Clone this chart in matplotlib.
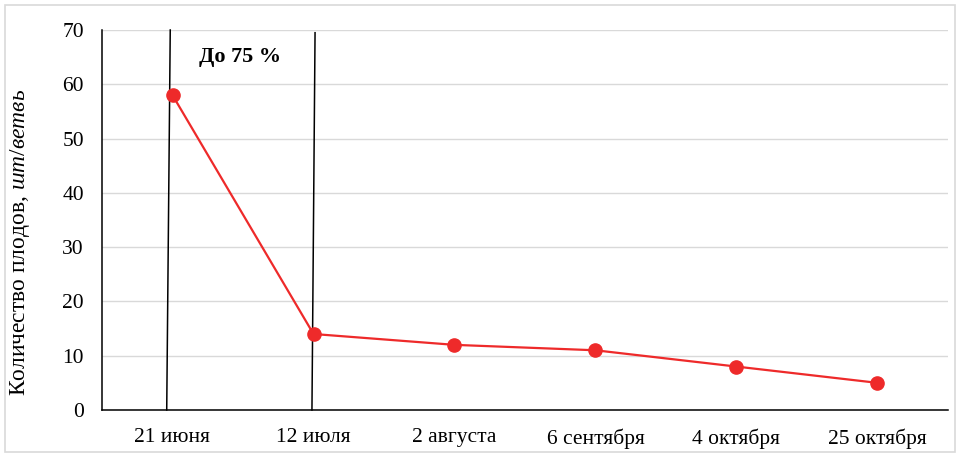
import matplotlib.pyplot as plt
from matplotlib.patches import Rectangle

plt.rcParams['font.family'] = ['Liberation Serif', 'DejaVu Serif']
plt.rcParams['mathtext.fontset'] = 'custom'
plt.rcParams['mathtext.rm'] = 'Liberation Serif'
plt.rcParams['mathtext.it'] = 'Liberation Serif:italic'

# data
dates = ["21 июня", "12 июля", "2 августа", "6 сентября", "4 октября", "25 октября"]
fruits = [58, 14, 12, 11, 8, 5]
yticks = [0, 10, 20, 30, 40, 50, 60, 70]
# boundary lines (bottom x, top x) in category units
bound1 = (-0.041, -0.016)
bound2 = (0.989, 1.011)

fig = plt.figure(figsize=(9.6, 4.57), dpi=100)
ax = fig.add_axes([102 / 960, 1 - 410 / 457, 846 / 960, 380 / 457])

# frame around the whole picture
fig.patches.append(Rectangle((5 / 960, 5 / 457), 950 / 960, 447 / 457,
                             transform=fig.transFigure, fill=False,
                             edgecolor='#d9d9d9', linewidth=1.2))

x = list(range(len(dates)))
ax.plot(x, fruits, color='#ee2a2a', linewidth=1.6, marker='o',
        markersize=9.5, zorder=4)

ax.plot(bound1, [0, 70], color='black', linewidth=1.1, zorder=3, clip_on=False)
ax.plot(bound2, [0, 69.5], color='black', linewidth=1.1, zorder=3, clip_on=False)
ax.text(0.48, 65, "До 75 %", fontsize=16, fontweight='bold',
        ha='center', va='center')

ax.set_xlim(-0.5, len(dates) - 0.5)
ax.set_ylim(0, 70)
ax.set_yticks(yticks)
ax.set_xticks(x)
ax.set_xticklabels(dates)
ax.tick_params(axis='both', length=0, labelsize=15.5)
ax.tick_params(axis='y', pad=13)
ax.tick_params(axis='x', pad=13)

ax.grid(axis='y', color='#d9d9d9', linewidth=1.0)
ax.set_axisbelow(True)
for s in ['top', 'right']:
    ax.spines[s].set_visible(False)
ax.spines['left'].set_color('black')
ax.spines['bottom'].set_color('black')
ax.spines['left'].set_linewidth(1.1)
ax.spines['bottom'].set_linewidth(1.1)

ax.set_ylabel("Количество плодов, $\\mathit{шт/ветвь}$", fontsize=16.9)
ax.yaxis.set_label_coords(-0.083, 0.442)

fig.savefig("out.png", dpi=100)
